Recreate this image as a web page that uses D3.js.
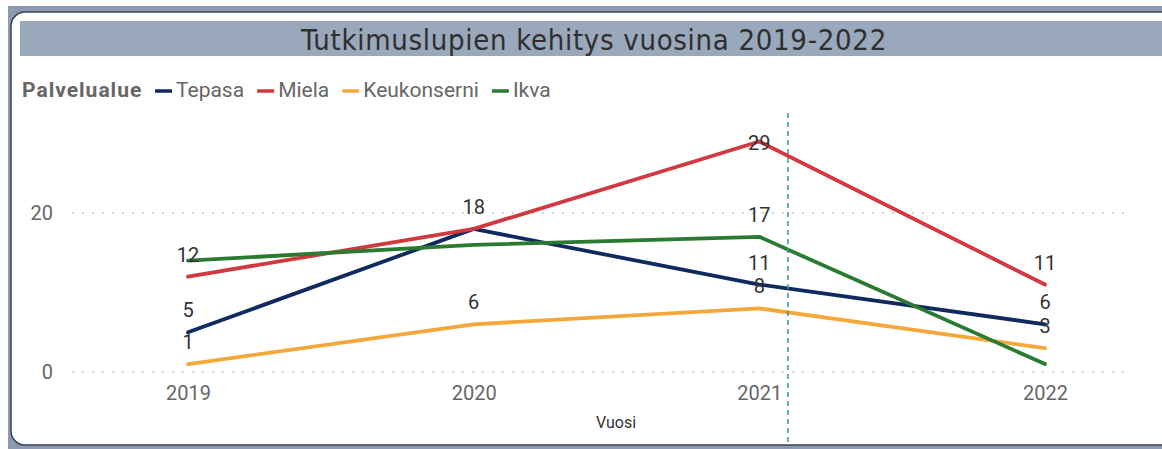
<!DOCTYPE html>
<html lang="fi">
<head>
<meta charset="utf-8">
<title>Tutkimuslupien kehitys vuosina 2019-2022</title>
<script src="https://cdn.jsdelivr.net/npm/d3@7"></script>
<style>
  html, body { margin: 0; padding: 0; background: #fff; }
  svg { display: block; }
  .tick text { font-family: Roboto, sans-serif; fill: #666; }
  .datalabel { font-family: Roboto, sans-serif; font-size: 20px; fill: #333; }
</style>
</head>
<body>
<script>
// data
var years = ["2019", "2020", "2021", "2022"];
var seriesNames = ["Tepasa", "Miela", "Keukonserni", "Ikva"];
var tepasa = [5, 18, 11, 6];
var miela = [12, 18, 29, 11];
var keukonserni = [1, 6, 8, 3];
var ikva = [14, 16, 17, 1];
// which data labels Power BI kept visible (others hidden by overlap)
var tepasaLabels = [true, true, true, true];
var mielaLabels = [true, false, true, true];
var keukonserniLabels = [true, true, true, true];
var ikvaLabels = [false, false, true, false];
var yTicks = [0, 20];
var colors = ["#0f2a5e", "#d1393e", "#f5a83a", "#2b7a32"];

var series = [
  { name: seriesNames[0], values: tepasa, labels: tepasaLabels, color: colors[0] },
  { name: seriesNames[1], values: miela, labels: mielaLabels, color: colors[1] },
  { name: seriesNames[2], values: keukonserni, labels: keukonserniLabels, color: colors[2] },
  { name: seriesNames[3], values: ikva, labels: ikvaLabels, color: colors[3] }
];

var W = 1162, H = 449;
var svg = d3.select("body").append("svg").attr("width", W).attr("height", H);

// frame
svg.append("rect").attr("x", 8).attr("y", 6).attr("width", W - 8).attr("height", H - 6)
  .attr("fill", "#8c99b2");
svg.append("rect").attr("x", 11).attr("y", 12).attr("width", W + 10).attr("height", 433)
  .attr("rx", 14).attr("fill", "#fff").attr("stroke", "#3b4250").attr("stroke-width", 1.5);

// title bar
svg.append("rect").attr("x", 20).attr("y", 21).attr("width", W - 20).attr("height", 35)
  .attr("fill", "#9aa8bb");
svg.append("text").attr("x", 594).attr("y", 50).attr("text-anchor", "middle")
  .style("font-family", "'DejaVu Sans Condensed', sans-serif").style("font-size", "29px")
  .style("letter-spacing", "0.7px")
  .attr("fill", "#2f2f2f").text("Tutkimuslupien kehitys vuosina 2019-2022");

// legend
var legend = svg.append("g").attr("transform", "translate(22,90)");
legend.append("text").attr("y", 7).style("font-family", "Roboto, sans-serif")
  .style("font-size", "21px").style("font-weight", "bold").style("letter-spacing", "1px")
  .attr("fill", "#666").text("Palvelualue");
var lx = 133;
series.forEach(function(s) {
  legend.append("line").attr("x1", lx).attr("x2", lx + 17).attr("y1", 1).attr("y2", 1)
    .attr("stroke", s.color).attr("stroke-width", 3.5);
  var t = legend.append("text").attr("x", lx + 21).attr("y", 7)
    .style("font-family", "Roboto, sans-serif").style("font-size", "21px")
    .attr("fill", "#666").text(s.name);
  lx += 21 + t.node().getComputedTextLength() + 13;
});

// scales
var x = d3.scalePoint().domain(years).range([188, 1045]);
var y = d3.scaleLinear().domain([0, 30]).range([372, 133.5]);

// gridlines
svg.append("g").selectAll("line").data(yTicks).enter().append("line")
  .attr("x1", 72).attr("x2", 1130)
  .attr("y1", function(d) { return y(d); }).attr("y2", function(d) { return y(d); })
  .attr("stroke", "#c8c8c8").attr("stroke-width", 1.3).attr("stroke-dasharray", "2,8");

// y axis
var yAxis = svg.append("g").attr("transform", "translate(53,0)")
  .call(d3.axisLeft(y).tickValues(yTicks).tickSize(0).tickPadding(0));
yAxis.select(".domain").remove();
yAxis.selectAll("text").style("font-size", "20px");

// x axis
var xAxis = svg.append("g").attr("transform", "translate(0,386)")
  .call(d3.axisBottom(x).tickSize(0).tickPadding(0));
xAxis.select(".domain").remove();
xAxis.selectAll("text").style("font-size", "20px");

svg.append("text").attr("x", 616).attr("y", 428).attr("text-anchor", "middle")
  .style("font-family", "Roboto, sans-serif").style("font-size", "16px")
  .attr("fill", "#333").text("Vuosi");

// lines
var line = d3.line().x(function(d, i) { return x(years[i]); }).y(function(d) { return y(d); });
svg.append("g").selectAll("path").data(series).enter().append("path")
  .attr("d", function(s) { return line(s.values); })
  .attr("fill", "none").attr("stroke", function(s) { return s.color; })
  .attr("stroke-width", 3.8).attr("stroke-linejoin", "round").attr("stroke-linecap", "round");

// data labels
var labelG = svg.append("g");
series.forEach(function(s) {
  s.values.forEach(function(v, i) {
    if (!s.labels[i]) return;
    var py = y(v);
    var ly = py - 15;
    if (py - 22 < 130) ly = py + 9; // no room above: centre on point
    labelG.append("text").attr("class", "datalabel")
      .attr("x", x(years[i])).attr("y", ly).attr("text-anchor", "middle").text(v);
  });
});

// reference cursor line
var cx = x("2021") + x.step() * 0.1;
svg.append("line").attr("x1", cx).attr("x2", cx).attr("y1", 113).attr("y2", 445)
  .attr("stroke", "#2a9d98").attr("stroke-width", 1.5).attr("stroke-dasharray", "5,4");
</script>
</body>
</html>
